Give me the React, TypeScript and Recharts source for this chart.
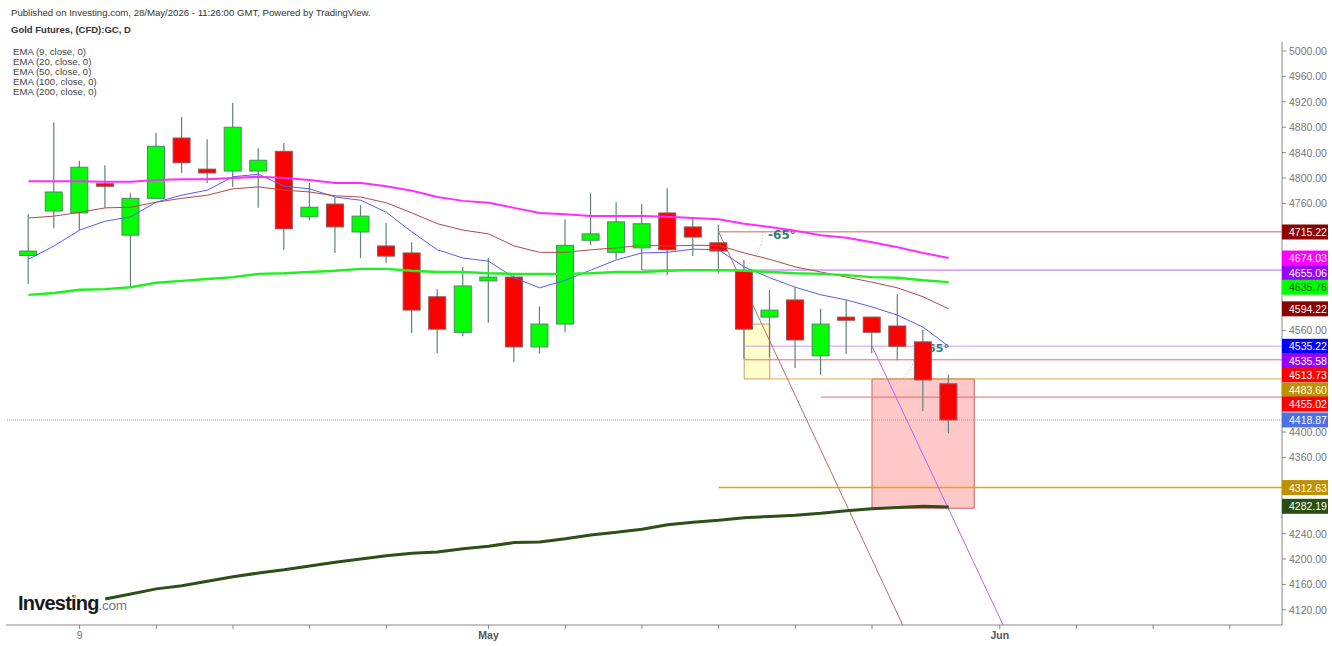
import {
  ComposedChart,
  Bar,
  Line,
  XAxis,
  YAxis,
  ReferenceLine,
  ReferenceArea,
  ReferenceDot,
} from 'recharts'

const FONT = '"Liberation Sans", Arial, sans-serif'

// daily candles
const opens = [4678, 4748, 4745, 4791, 4710, 4768, 4863, 4814, 4811, 4811, 4842, 4739, 4759, 4715, 4693, 4682, 4613, 4557, 4638, 4644, 4534, 4570, 4702, 4683, 4690, 4745, 4723, 4698, 4654, 4581, 4608, 4520, 4581, 4581, 4567, 4542, 4476]
const highs = [4743, 4888, 4827, 4820, 4776, 4871, 4896, 4861, 4918, 4847, 4855, 4792, 4770, 4757, 4729, 4699, 4625, 4660, 4674, 4647, 4598, 4735, 4776, 4762, 4759, 4784, 4737, 4726, 4671, 4624, 4628, 4594, 4608, 4581, 4617, 4561, 4490]
const lows = [4633, 4721, 4718, 4753, 4628, 4768, 4808, 4792, 4786, 4753, 4687, 4734, 4682, 4674, 4666, 4556, 4524, 4551, 4572, 4510, 4524, 4557, 4694, 4672, 4655, 4647, 4677, 4650, 4515, 4518, 4501, 4490, 4523, 4524, 4513, 4433, 4398]
const closes = [4685, 4778, 4817, 4787, 4768, 4850, 4824, 4808, 4880, 4828, 4720, 4754, 4723, 4740, 4677, 4592, 4562, 4630, 4644, 4534, 4570, 4694, 4712, 4731, 4728, 4687, 4707, 4685, 4562, 4592, 4545, 4570, 4576, 4557, 4535, 4482, 4419]

const ema9 = [4672, 4693, 4718, 4732, 4739, 4762, 4773, 4781, 4802, 4806, 4787, 4783, 4770, 4765, 4746, 4715, 4687, 4674, 4669, 4643, 4627, 4639, 4655, 4671, 4682, 4683, 4688, 4687, 4660, 4643, 4628, 4616, 4608, 4597, 4584, 4565, 4535]
const ema20 = [4737, 4740, 4746, 4753, 4754, 4762, 4768, 4773, 4783, 4786, 4781, 4778, 4772, 4770, 4761, 4745, 4728, 4718, 4712, 4693, 4683, 4683, 4687, 4690, 4694, 4693, 4694, 4694, 4682, 4672, 4660, 4652, 4644, 4636, 4627, 4613, 4594]
const ema50 = [4795, 4795, 4795, 4794, 4794, 4797, 4798, 4798, 4800, 4802, 4800, 4797, 4792, 4792, 4787, 4780, 4770, 4764, 4761, 4753, 4745, 4743, 4740, 4740, 4740, 4739, 4737, 4735, 4728, 4723, 4717, 4710, 4706, 4699, 4691, 4682, 4674]
const ema100 = [4616, 4619, 4624, 4625, 4628, 4635, 4638, 4641, 4644, 4649, 4650, 4652, 4654, 4657, 4657, 4654, 4652, 4652, 4650, 4649, 4649, 4649, 4650, 4652, 4652, 4654, 4655, 4655, 4654, 4652, 4650, 4649, 4647, 4644, 4643, 4639, 4636]
const ema200 = [null, null, null, 4137, 4145, 4153, 4158, 4165, 4172, 4178, 4183, 4189, 4195, 4200, 4205, 4209, 4211, 4216, 4220, 4226, 4227, 4232, 4238, 4242, 4247, 4254, 4258, 4261, 4265, 4267, 4269, 4272, 4276, 4279, 4281, 4283, 4282]

// ticks that stay readable next to the price tags
const priceTicks = [5000, 4960, 4920, 4880, 4840, 4800, 4760, 4560, 4400, 4360, 4240, 4200, 4160, 4120]
const dateTicks = [2, 5, 8, 11, 14, 18, 21, 24, 27, 30, 33, 38, 41, 44, 47]
const dateLabels: Record<number, string> = { 2: '9', 18: 'May', 38: 'Jun' }

// price tags on the axis: printed value, and the level they sit at after de-overlap
const tagTexts = ['4715.22', '4674.03', '4655.06', '4635.76', '4594.22', '4535.22', '4535.58', '4513.73', '4483.60', '4455.02', '4418.87', '4312.63', '4282.19']
const tagLevels = [4715, 4674, 4651, 4628, 4594, 4535, 4512, 4490, 4466, 4444, 4419, 4312.5, 4283]
const tagFills = ['#8b0000', '#ff00ff', '#9900ff', '#00ff00', '#8b0000', '#0000ff', '#9900ff', '#ff0000', '#bf9000', '#ff0000', '#4f70e0', '#bf9000', '#274e13']

// horizontal drawings
const levelPrices = [4715.22, 4655.06, 4535.22, 4513.73, 4483.6, 4455.02, 4312.63]
const levelStarts = [27, 24, 28, 28, 29, 31, 27]
const levelColors = ['#bd6a6a', '#b565f0', '#c79bf5', '#f06868', '#dfae4a', '#f06868', '#e0a800']
const levelWidths = [1, 1, 1, 1, 1, 1, 1.3]

const legend = ['EMA (9, close, 0)', 'EMA (20, close, 0)', 'EMA (50, close, 0)', 'EMA (100, close, 0)', 'EMA (200, close, 0)']

const arcOne = [[28.74, 4715], [28.67, 4695], [28.47, 4677], [28.15, 4662], [27.72, 4650]]
const arcTwo = [[34.76, 4535], [34.69, 4516], [34.49, 4498], [34.17, 4483], [33.74, 4471]]

const X_DOMAIN = [-0.88, 49.04]
const Y_DOMAIN = [4096.1, 5014.2]
const BACK = 100

const data = opens.map((open, i) => ({
  idx: i,
  open,
  close: closes[i],
  high: highs[i],
  low: lows[i],
  range: [lows[i], highs[i]],
  ema9: ema9[i],
  ema20: ema20[i],
  ema50: ema50[i],
  ema100: ema100[i],
  ema200: ema200[i],
}))

function Candle(props: any) {
  const { x, y, width, height, payload } = props
  const { open, close, high, low } = payload
  const toY = (p: number) => y + ((high - p) / (high - low)) * height
  const up = close >= open
  const top = toY(Math.max(open, close))
  const bottom = toY(Math.min(open, close))
  const cx = x + width / 2
  return (
    <g>
      <line x1={cx} x2={cx} y1={y} y2={y + height} stroke="#5f8472" strokeWidth={1.2} />
      <rect
        x={x}
        y={top}
        width={width}
        height={Math.max(bottom - top, 1)}
        fill={up ? '#00ff00' : '#ff0000'}
        stroke={up ? '#4d8a63' : '#8a5a5a'}
        strokeWidth={1}
      />
    </g>
  )
}

function PriceTick(props: any) {
  const { x, y, payload } = props
  const i = tagLevels.indexOf(payload.value)
  if (i < 0) {
    return (
      <text x={x} y={y + 4} fontSize={10.5} fontFamily={FONT} fill="#777">
        {payload.value.toFixed(2)}
      </text>
    )
  }
  return (
    <g>
      <rect x={x - 7} y={y - 7.5} width={46} height={15} fill={tagFills[i]} />
      <text x={x} y={y + 4} fontSize={10.5} fontFamily={FONT} fill={tagFills[i] === '#00ff00' ? '#115511' : '#fff'}>
        {tagTexts[i]}
      </text>
    </g>
  )
}

function DateTick(props: any) {
  const { x, y, payload } = props
  const label = dateLabels[payload.value]
  if (!label) return <g />
  return (
    <text x={x} y={y + 8} textAnchor="middle" fontSize={10.5} fontFamily={FONT} fontWeight={label === '9' ? 400 : 700} fill={label === '9' ? '#777' : '#555'}>
      {label}
    </text>
  )
}

function arcSegments(points: number[][], color: string, key: string) {
  return points.slice(1).map((p, i) => (
    <ReferenceLine
      key={key + i}
      zIndex={BACK}
      segment={[{ x: points[i][0], y: points[i][1] }, { x: p[0], y: p[1] }]}
      stroke={color}
      strokeDasharray="1 2"
    />
  ))
}

export default function App() {
  return (
    <div style={{ position: 'absolute', left: 0, top: 0, width: 1332, height: 646, background: '#fff', fontFamily: FONT }}>
      <div style={{ position: 'absolute', left: 11, top: 7, fontSize: 9.6, color: '#333', whiteSpace: 'nowrap' }}>
        Published on Investing.com, 28/May/2026 - 11:26:00 GMT, Powered by TradingView.
      </div>
      <div style={{ position: 'absolute', left: 11, top: 24, fontSize: 9.5, fontWeight: 700, color: '#333', whiteSpace: 'nowrap' }}>
        Gold Futures, (CFD):GC, D
      </div>
      <div style={{ position: 'absolute', left: 13, top: 47, fontSize: 9.6, lineHeight: '10px', color: '#444', whiteSpace: 'nowrap' }}>
        {legend.map((t) => (
          <div key={t}>{t}</div>
        ))}
      </div>

      <ComposedChart
        width={1332}
        height={646}
        data={data}
        margin={{ top: 42, right: 0, bottom: 0, left: 6 }}
      >
        <XAxis
          type="number"
          dataKey="idx"
          domain={X_DOMAIN}
          allowDataOverflow
          ticks={dateTicks}
          interval={0}
          height={21}
          tick={<DateTick />}
          tickSize={4}
          axisLine={{ stroke: '#888' }}
          tickLine={{ stroke: '#888' }}
        />
        <YAxis
          orientation="right"
          domain={Y_DOMAIN}
          allowDataOverflow
          ticks={[...priceTicks, ...tagLevels]}
          interval={0}
          width={50}
          tick={<PriceTick />}
          tickSize={4}
          tickMargin={3}
          axisLine={{ stroke: '#888' }}
          tickLine={{ stroke: '#888' }}
        />

        <ReferenceArea zIndex={BACK} x1={28} x2={29} y1={4570} y2={4483.6} fill="#ffffcc" fillOpacity={1} stroke="#d09a6a" strokeWidth={1} />
        <ReferenceArea zIndex={BACK} x1={33} x2={37} y1={4483.6} y2={4280} fill="#ffc8c8" fillOpacity={1} stroke="#c86060" strokeWidth={1} />

        {levelPrices.map((p, i) => (
          <ReferenceLine
            key={p}
            zIndex={BACK}
            segment={[{ x: levelStarts[i], y: p }, { x: X_DOMAIN[1], y: p }]}
            stroke={levelColors[i]}
            strokeWidth={levelWidths[i]}
          />
        ))}
        <ReferenceLine zIndex={BACK} y={4418.87} stroke="#7f9cf8" strokeDasharray="1 1" />
        <ReferenceLine zIndex={BACK} segment={[{ x: 27, y: 4715.22 }, { x: 34.2, y: Y_DOMAIN[0] }]} stroke="#bd6a6a" strokeWidth={1} />
        <ReferenceLine zIndex={BACK} segment={[{ x: 33, y: 4535.22 }, { x: 38.13, y: Y_DOMAIN[0] }]} stroke="#b565f0" strokeWidth={1} />
        {arcSegments(arcOne, '#e8a0a0', 'a')}
        {arcSegments(arcTwo, '#c79bf5', 'b')}

        <ReferenceDot
          zIndex={BACK}
          x={28.74}
          y={4711}
          r={0}
          fill="none"
          stroke="none"
          label={{ value: '-65°', position: 'right', zIndex: BACK, fontSize: 12, fontFamily: 'DejaVu Sans, sans-serif', fontWeight: 700, fill: '#2f7f6f' }}
        />
        <ReferenceDot
          zIndex={BACK}
          x={34.82}
          y={4532}
          r={0}
          fill="none"
          stroke="none"
          label={{ value: '-65°', position: 'right', zIndex: BACK, fontSize: 11, fontFamily: 'DejaVu Sans, sans-serif', fontWeight: 700, fill: '#2f7f6f' }}
        />

        <Bar dataKey="range" barSize={17} shape={<Candle />} isAnimationActive={false} />

        <Line dataKey="ema9" stroke="#5a5af5" strokeWidth={1} dot={false} isAnimationActive={false} />
        <Line dataKey="ema20" stroke="#b04a48" strokeWidth={1} dot={false} isAnimationActive={false} />
        <Line dataKey="ema50" stroke="#ff2cff" strokeWidth={2} dot={false} isAnimationActive={false} />
        <Line dataKey="ema100" stroke="#1ff01f" strokeWidth={2.4} dot={false} isAnimationActive={false} />
        <Line dataKey="ema200" stroke="#2c5016" strokeWidth={3} dot={false} isAnimationActive={false} />
      </ComposedChart>

      <div style={{ position: 'absolute', left: 18, top: 591, whiteSpace: 'nowrap', lineHeight: '24px' }}>
        <span style={{ fontSize: 20, fontWeight: 700, color: '#1a1a1a', letterSpacing: -0.8 }}>Investing</span>
        <span style={{ fontSize: 13.5, color: '#777', letterSpacing: -0.3 }}>.com</span>
      </div>
      <div style={{ position: 'absolute', left: 73, top: 595, width: 3, height: 3, borderRadius: 2, background: '#f5a623' }} />
    </div>
  )
}
